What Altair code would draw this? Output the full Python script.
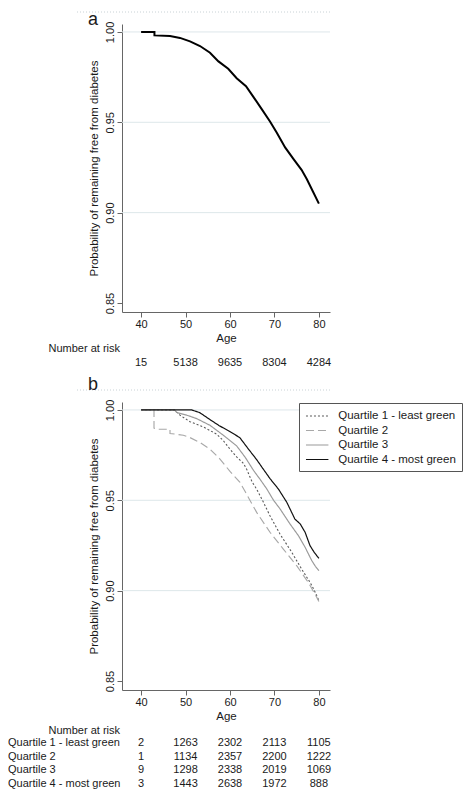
import altair as alt
import pandas as pd

FONT = "Liberation Sans"
TXT = "#1a1a1a"

# ---------------- data ----------------
tick_ages = [40, 50, 60, 70, 80]
y_ticks = [0.85, 0.90, 0.95, 1.00]
grid_vals = [0.90, 0.95, 1.00]

# panel a: whole cohort
age_all = [40, 43.0, 43.0, 46.5, 48.75, 51.0, 53.25, 55.5, 57.4, 59.6, 61.5, 63.6,
           65.3, 67.1, 69.0, 70.5, 72.4, 74.3, 76.1, 77.3, 78.6, 80.0]
surv_all = [1.0, 1.0, 0.9981, 0.9978, 0.9967, 0.9948, 0.9922, 0.9885, 0.9837, 0.9796,
            0.9744, 0.9700, 0.9639, 0.9574, 0.9504, 0.9444, 0.9361, 0.9296, 0.9237,
            0.9185, 0.9120, 0.9050]
risk_all = [15, 5138, 9635, 8304, 4284]

# panel b: quartiles of green space
quartiles = ["Quartile 1 - least green", "Quartile 2", "Quartile 3", "Quartile 4 - most green"]
q1_age = [40, 47.5, 48.75, 51.0, 54.0, 57.0, 58.5, 60.0, 61.5, 63.0, 63.75, 65.0, 66.0,
          67.5, 69.0, 71.25, 73.9, 76.1, 78.0, 79.0, 80.0]
q1_surv = [1.0, 1.0, 0.9971, 0.9935, 0.9906, 0.9866, 0.9830, 0.9783, 0.9740, 0.9705,
           0.9672, 0.9600, 0.9562, 0.9490, 0.9414, 0.9313, 0.9212, 0.9120, 0.9046,
           0.9000, 0.8945]
q2_age = [40, 42.9, 42.9, 43.5, 46.5, 46.5, 49.5, 51.0, 53.25, 55.5, 57.75, 60.0, 62.25,
          63.5, 66.0, 69.0, 72.0, 75.0, 77.6, 79.5, 80.0]
q2_surv = [1.0, 1.0, 0.9900, 0.9893, 0.9893, 0.9870, 0.9860, 0.9847, 0.9820, 0.9783,
           0.9728, 0.9660, 0.9599, 0.9544, 0.9433, 0.9323, 0.9230, 0.9138, 0.9046,
           0.8964, 0.8940]
q3_age = [40, 47.5, 48.0, 50.3, 52.5, 55.5, 58.5, 61.5, 63.5, 65.3, 66.8, 68.3, 69.8,
          71.3, 73.5, 75.4, 76.9, 78.4, 79.2, 80.0]
q3_surv = [1.0, 1.0, 0.9986, 0.9971, 0.9952, 0.9915, 0.9860, 0.9801, 0.9735, 0.9665,
           0.9615, 0.9562, 0.9500, 0.9451, 0.9369, 0.9304, 0.9240, 0.9166, 0.9135, 0.9110]
q4_age = [40, 51.4, 53.2, 55.3, 57.5, 60.0, 62.2, 64.1, 66.0, 67.5, 69.0, 70.9, 72.8,
          74.6, 75.8, 76.9, 78.0, 79.0, 80.0]
q4_surv = [1.0, 1.0, 0.9985, 0.9950, 0.9914, 0.9880, 0.9847, 0.9785, 0.9725, 0.9672,
           0.9620, 0.9562, 0.9488, 0.9396, 0.9369, 0.9323, 0.9249, 0.9210, 0.9179]
risk_q = [
    [2, 1263, 2302, 2113, 1105],
    [1, 1134, 2357, 2200, 1222],
    [9, 1298, 2338, 2019, 1069],
    [3, 1443, 2638, 1972, 888],
]

q_colors = ["#5a5a5a", "#a8a8a8", "#9a9a9a", "#111111"]
q_dashes = [[2, 2], [8, 4], [1, 0], [1, 0]]
q_widths = [1.1, 1.2, 2.0, 2.0]

# ---------------- encodings ----------------
W, H = 208, 288
X_SCALE = alt.Scale(domain=[35.7, 82.5], nice=False, zero=False)
Y_SCALE = alt.Scale(domain=[0.845, 1.0044], nice=False, zero=False)
AX_COL = "#666666"

x_enc = alt.X("age:Q", scale=X_SCALE,
              axis=alt.Axis(values=tick_ages, title="Age", grid=False, tickSize=5,
                            labelPadding=1, titlePadding=3, domainColor=AX_COL,
                            tickColor=AX_COL, labelColor=TXT, titleColor=TXT,
                            labelFontSize=11, titleFontSize=11.5,
                            titleFontWeight="normal", labelFont=FONT, titleFont=FONT,
                            labelFlush=False))
y_enc = alt.Y("surv:Q", scale=Y_SCALE,
              axis=alt.Axis(values=y_ticks, format=".2f",
                            title="Probability of remaining free from diabetes",
                            grid=False, labelAngle=270, labelAlign="center",
                            labelBaseline="bottom", tickSize=5, labelPadding=2,
                            titlePadding=5, domainColor=AX_COL, tickColor=AX_COL,
                            labelColor=TXT, titleColor=TXT, labelFontSize=11,
                            titleFontSize=11.5, titleFontWeight="normal",
                            labelFont=FONT, titleFont=FONT, labelFlush=False))


def common_layers():
    grid = alt.Chart(pd.DataFrame({"surv": grid_vals})).mark_rule(
        color="#dde7ea", strokeWidth=1).encode(y=y_enc)
    frame = alt.Chart(pd.DataFrame({"k": [0]})).mark_rule(
        color="#c9d2d6", strokeDash=[1, 2], strokeWidth=1).encode(
        x=alt.value(-45), x2=alt.value(209), y=alt.value(-12))
    return grid, frame


def letter_layer(letter, ybase):
    return alt.Chart(pd.DataFrame({"t": [letter]})).mark_text(
        fontSize=18, font=FONT, align="center", baseline="alphabetic", color=TXT
    ).encode(x=alt.value(-29), y=alt.value(ybase), text="t:N")


def nar_title(ypos):
    return alt.Chart(pd.DataFrame({"t": ["Number at risk"]})).mark_text(
        fontSize=11, font=FONT, align="right", baseline="middle", color=TXT
    ).encode(x=alt.value(-2), y=alt.value(ypos), text="t:N")


def risk_numbers(values, ypos):
    df = pd.DataFrame({"age": tick_ages, "n": values})
    return alt.Chart(df).mark_text(
        fontSize=11, font=FONT, align="center", baseline="middle", color=TXT
    ).encode(x=x_enc, y=alt.value(ypos), text="n:Q")


# ---------------- panel a ----------------
df_a = pd.DataFrame({"age": age_all, "surv": surv_all, "i": range(len(age_all))})
grid_a, frame_a = common_layers()
# invisible spacer keeping a little room above the panel letter
spacer_a = alt.Chart(pd.DataFrame({"k": [0]})).mark_rule(
    opacity=0, strokeWidth=1).encode(
    x=alt.value(-45), x2=alt.value(-40), y=alt.value(-15.5))
line_a = alt.Chart(df_a).mark_line(color="#000000", strokeWidth=2).encode(
    x=x_enc, y=y_enc, order="i:Q")
panel_a = alt.layer(
    grid_a, frame_a, spacer_a, line_a,
    letter_layer("a", 0.5),
    nar_title(325),
    risk_numbers(risk_all, 338.8),
).properties(width=W, height=H)

# ---------------- panel b ----------------
rows = []
for q, ages, survs in zip(quartiles, [q1_age, q2_age, q3_age, q4_age],
                          [q1_surv, q2_surv, q3_surv, q4_surv]):
    for j, (a, s) in enumerate(zip(ages, survs)):
        rows.append({"group": q, "age": a, "surv": s, "i": j})
df_b = pd.DataFrame(rows)

grid_b, frame_b = common_layers()
lines_b = alt.Chart(df_b).mark_line().encode(
    x=x_enc, y=y_enc, order="i:Q",
    color=alt.Color("group:N", scale=alt.Scale(domain=quartiles, range=q_colors),
                    legend=alt.Legend(title=None, orient="none", legendX=177, legendY=1,
                                      direction="vertical", fillColor="white",
                                      strokeColor="#555555", padding=6,
                                      symbolType="M-1.87,0L1.87,0", symbolSize=144,
                                      symbolOffset=5.2, symbolStrokeWidth=1.3,
                                      labelFontSize=11.5, labelFont=FONT,
                                      labelColor=TXT, labelOffset=14,
                                      rowPadding=1.5, labelLimit=300)),
    strokeDash=alt.StrokeDash("group:N",
                              scale=alt.Scale(domain=quartiles, range=q_dashes),
                              legend=alt.Legend(title=None)),
    strokeWidth=alt.StrokeWidth("group:N",
                                scale=alt.Scale(domain=quartiles, range=q_widths),
                                legend=None),
)

row_y = [341.3, 354.8, 368.2, 381.7]
b_layers = [grid_b, frame_b, lines_b, letter_layer("b", -12), nar_title(328.8)]
for q, vals, yy in zip(quartiles, risk_q, row_y):
    b_layers.append(risk_numbers(vals, yy))
    b_layers.append(alt.Chart(pd.DataFrame({"t": [q]})).mark_text(
        fontSize=11, font=FONT, align="left", baseline="middle", color=TXT
    ).encode(x=alt.value(-114), y=alt.value(yy), text="t:N"))

panel_b = alt.layer(*b_layers).properties(width=W, height=H)

chart = alt.vconcat(panel_a, panel_b, spacing=8).resolve_legend(
    color="independent", strokeDash="independent", strokeWidth="independent"
).properties(padding=0).configure(font=FONT).configure_view(stroke=None)

chart.save("out.html", embed_options={"renderer": "svg", "actions": False})
